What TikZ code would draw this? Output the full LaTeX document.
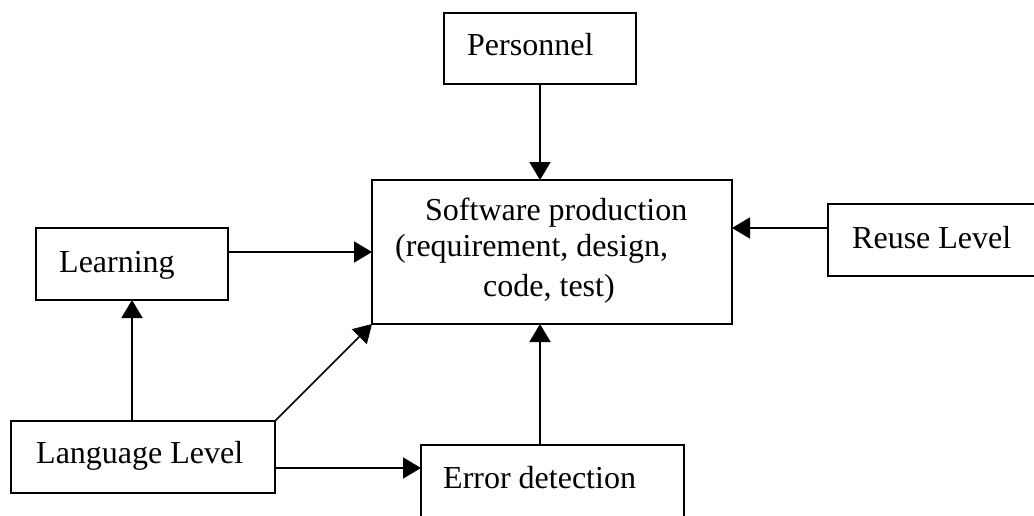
\documentclass[tikz,border=0pt]{standalone}
\usepackage{fontspec}
\setmainfont{Liberation Serif}
\usetikzlibrary{arrows.meta}
\begin{document}
\begin{tikzpicture}[x=1pt,y=-1pt,
  box/.style={draw, line width=1.6pt, inner sep=0pt, outer sep=0pt},
  lbl/.style={anchor=base west, inner sep=0pt, font=\fontsize{32}{38}\selectfont},
  arr/.style={line width=1.6pt, -{Triangle[length=18pt,width=21pt]}}]
\useasboundingbox (0,0) rectangle (1034,515);
\clip (0,0) rectangle (1034,515);

% boxes
\node[box, minimum width=192pt, minimum height=71pt]  (per)  at (540,48.5) {};
\node[box, minimum width=360pt, minimum height=144pt] (sw)   at (552,252) {};
\node[box, minimum width=232pt, minimum height=72pt]  (reu)  at (944,240) {};
\node[box, minimum width=192pt, minimum height=72pt]  (lrn)  at (132,264) {};
\node[box, minimum width=264pt, minimum height=72pt]  (lang) at (143,457) {};
\node[box, minimum width=263pt, minimum height=115pt] (err)  at (552.5,502.5) {};

% labels
\node[lbl] (tper)  at (467,55)  {Personnel};
\node[lbl] (tsw1)  at (425,220) {Software production};
\node[lbl] (tsw2)  at (395,256) {(requirement, design,};
\node[lbl] (tsw3)  at (483,296) {code, test)};
\node[lbl] (treu)  at (852,248) {Reuse Level};
\node[lbl] (tlrn)  at (59,272)  {Learning};
\node[lbl] (tlang) at (36,463)  {Language Level};
\node[lbl] (terr)  at (443,488) {Error detection};

% connectors
\draw[arr] (per.south) -- (per.south |- sw.north);
\draw[arr] ([yshift=12pt]reu.west) -- ([yshift=12pt]reu.west -| sw.east);
\draw[arr] (lrn.east |- sw.west) -- (sw.west);
\draw[arr] (lang.north -| lrn.south) -- (lrn.south);
\draw[arr] (lang.north east) -- (sw.south west);
\draw[arr] ([yshift=-11pt]lang.east) -- ([yshift=-11pt]lang.east -| err.west);
\draw[arr] ([xshift=-12.5pt]err.north) -- ([xshift=-12.5pt]err.north |- sw.south);
\end{tikzpicture}
\end{document}
